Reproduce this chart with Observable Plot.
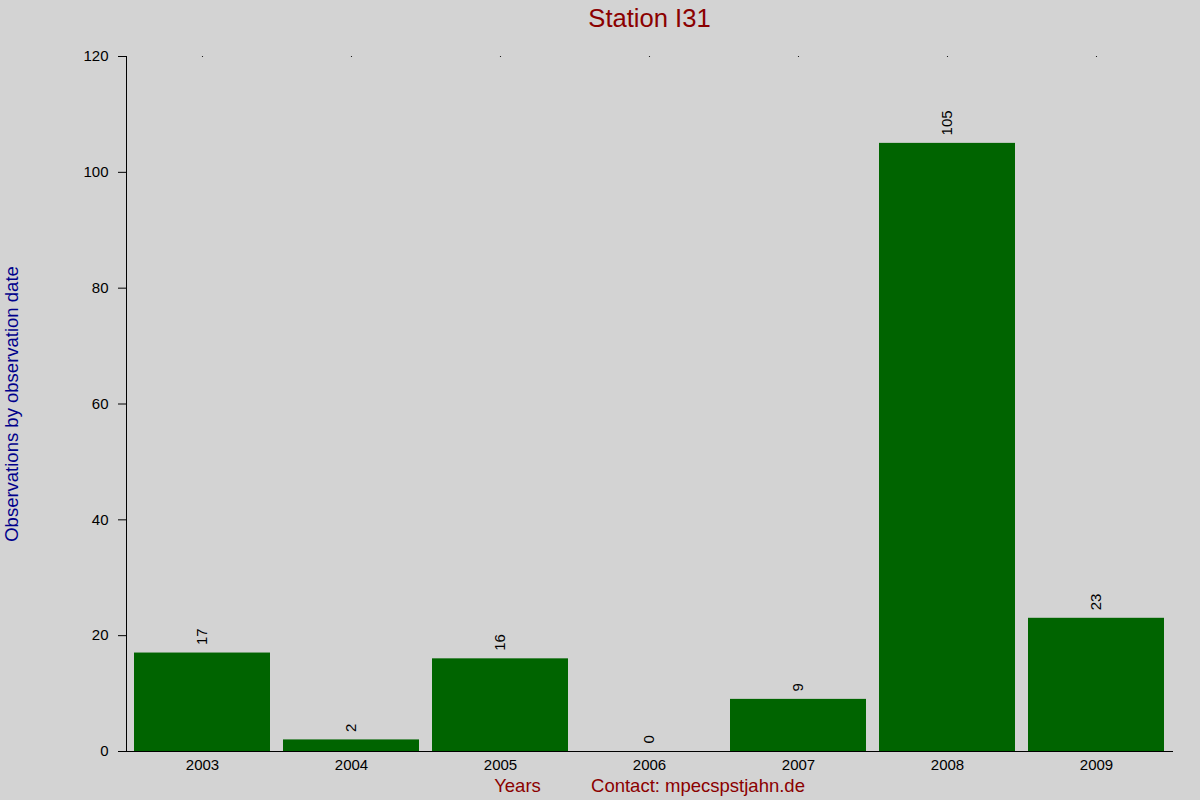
<!DOCTYPE html>
<html>
<head>
<meta charset="utf-8">
<script src="https://cdn.jsdelivr.net/npm/d3@7"></script>
<script src="https://cdn.jsdelivr.net/npm/@observablehq/plot@0.6"></script>
<style>
  html, body { margin: 0; padding: 0; background: #d3d3d3; }
  #chart svg { display: block; }
</style>
</head>
<body>
<div id="chart"></div>
<script>
const years = ["2003", "2004", "2005", "2006", "2007", "2008", "2009"];
const counts = [17, 2, 16, 0, 9, 105, 23];
const yTicks = [0, 20, 40, 60, 80, 100, 120];
const titleText = "Station I31";
const yLabel = "Observations by observation date";
const xLabel = "Years";
const contactText = "Contact: mpecspstjahn.de";

const data = years.map((y, i) => ({year: y, count: counts[i]}));

const chart = Plot.plot({
  width: 1200,
  height: 800,
  marginLeft: 126,
  marginRight: 28,
  marginTop: 56,
  marginBottom: 49,
  style: {background: "#d3d3d3", fontFamily: "'Liberation Sans', Arial, sans-serif", fontSize: "15px", color: "#000"},
  x: {domain: years, paddingInner: 0.09, paddingOuter: 0.045, label: null},
  y: {domain: [0, 120], label: null},
  marks: [
    Plot.barY(data, {x: "year", y: "count", fill: "#006400"}),
    Plot.axisY({ticks: yTicks, tickSize: 8, tickPadding: 10, fontSize: 15, stroke: "#000", strokeOpacity: 1, label: null}),
    Plot.axisX({tickSize: 0, tickPadding: 8, fontSize: 15, label: null}),
    Plot.frame({anchor: "left", stroke: "#000"}),
    Plot.frame({anchor: "bottom", stroke: "#000"}),
    Plot.dot(years, {x: d => d, y: () => 120, r: 0.6, fill: "#000", stroke: null}),
    Plot.text(data, {x: "year", y: "count", text: d => String(d.count), rotate: -90, textAnchor: "start", lineAnchor: "middle", dy: -8, fontSize: 15, fill: "#000"}),
    Plot.text([titleText], {frameAnchor: "top", dy: -38, fontSize: 25.6, fill: "#8b0000", textAnchor: "middle", lineAnchor: "middle"}),
    Plot.text([yLabel], {frameAnchor: "left", dx: -114, rotate: -90, fontSize: 18.5, fill: "#00008b", textAnchor: "middle", lineAnchor: "middle"}),
    Plot.text([xLabel], {frameAnchor: "bottom", dx: -132, dy: 35, fontSize: 18.5, fill: "#8b0000", textAnchor: "middle", lineAnchor: "middle"}),
    Plot.text([contactText], {frameAnchor: "bottom", dx: 48.5, dy: 35, fontSize: 18.5, fill: "#8b0000", textAnchor: "middle", lineAnchor: "middle"})
  ]
});
document.getElementById("chart").appendChild(chart);
</script>
</body>
</html>
